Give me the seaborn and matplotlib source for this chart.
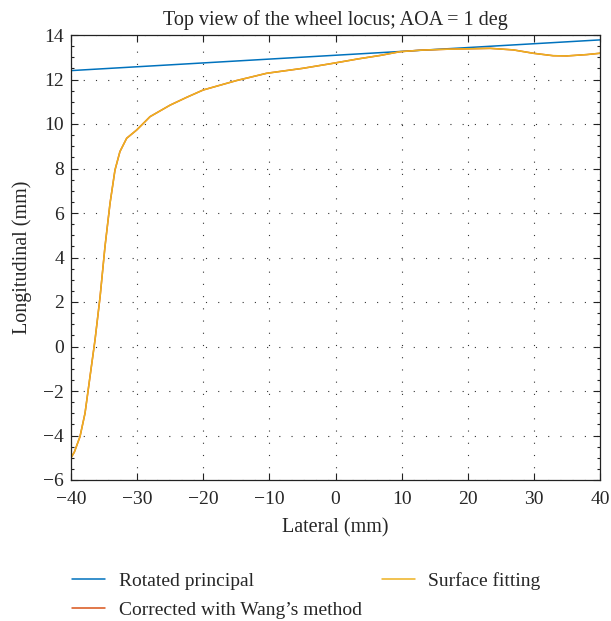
import numpy as np
import pandas as pd
import matplotlib
matplotlib.use("Agg")
import matplotlib.pyplot as plt
import seaborn as sns
from matplotlib.ticker import MultipleLocator

# Data
rot_x = [-40, 40]
rot_y = [12.4, 13.78]

curve_x = [-40.0, -39.5, -38.64, -37.88, -37.13, -36.37, -35.6, -34.86, -34.1, -33.35,
           -32.6, -31.58, -30.07, -28.55, -28.05, -25.0, -22.5, -20.0, -15.0, -10.4,
           -5.0, -0.33, 3.5, 6.73, 9.75, 13.0, 16.8, 20.0, 23.4, 26.9, 29.9, 32.9,
           35.0, 38.0, 40.0]
curve_y = [-5.0, -4.75, -4.05, -3.0, -1.36, 0.29, 2.24, 4.49, 6.43, 7.93,
           8.76, 9.36, 9.73, 10.18, 10.33, 10.85, 11.2, 11.53, 11.95, 12.28,
           12.5, 12.73, 12.93, 13.08, 13.25, 13.32, 13.36, 13.38, 13.4, 13.33, 13.18, 13.07,
           13.06, 13.12, 13.18]
# Wang's corrected result coincides with the surface-fitting curve
wang_y = list(curve_y)

labels = ["Rotated principal", "Corrected with Wang\u2019s method", "Surface fitting"]
colors = ["#0072BD", "#D95319", "#EDB120"]

sns.set_theme(style="ticks")
plt.rcParams["font.family"] = ["Liberation Serif", "DejaVu Serif"]

fig = plt.figure(figsize=(6.11, 6.21), dpi=100)
ax = fig.add_axes([71/611, 1-480/621, (600-71)/611, (480-35)/621])

df_rot = pd.DataFrame({"x": rot_x, "y": rot_y})
df_wang = pd.DataFrame({"x": curve_x, "y": wang_y})
df_surf = pd.DataFrame({"x": curve_x, "y": curve_y})

sns.lineplot(data=df_rot, x="x", y="y", ax=ax, color=colors[0], lw=1.1,
             label=labels[0], estimator=None, sort=False)
sns.lineplot(data=df_wang, x="x", y="y", ax=ax, color=colors[1], lw=1.1,
             label=labels[1], estimator=None, sort=False)
sns.lineplot(data=df_surf, x="x", y="y", ax=ax, color=colors[2], lw=1.1,
             label=labels[2], estimator=None, sort=False)

ax.set_xlim(-40, 40)
ax.set_ylim(-6, 14)
ax.xaxis.set_major_locator(MultipleLocator(10))
ax.yaxis.set_major_locator(MultipleLocator(2))
ax.yaxis.set_minor_locator(MultipleLocator(0.5))
ax.set_xticklabels([("\u2212" if v < 0 else "") + str(abs(int(v))) for v in ax.get_xticks()])
ax.set_yticklabels([("\u2212" if v < 0 else "") + str(abs(int(v))) for v in ax.get_yticks()])

ax.grid(True, which="major", color="#333333", linestyle=(0, (1, 10)), linewidth=0.8)
ax.tick_params(which="both", direction="in", top=True, right=True, labelsize=14,
               color="#222222", width=0.8)
ax.tick_params(which="major", length=5, pad=5)
ax.tick_params(axis="x", which="major", pad=8)
ax.tick_params(which="minor", length=2.5)
for s in ax.spines.values():
    s.set_color("#222222")
    s.set_linewidth(0.9)

ax.set_xlabel("Lateral (mm)", fontsize=14.5, labelpad=7)
ax.set_ylabel("Longitudinal (mm)", fontsize=14.5, labelpad=8)
ax.set_title("Top view of the wheel locus; AOA = 1 deg", fontsize=14.5, pad=7)

leg = ax.legend(loc="upper left", bbox_to_anchor=(-0.012, -0.19), ncol=2, frameon=False,
                fontsize=14, handlelength=1.7, handletextpad=0.7, columnspacing=1.0,
                labelspacing=0.55, borderaxespad=0)

fig.savefig("out.png", dpi=100)
